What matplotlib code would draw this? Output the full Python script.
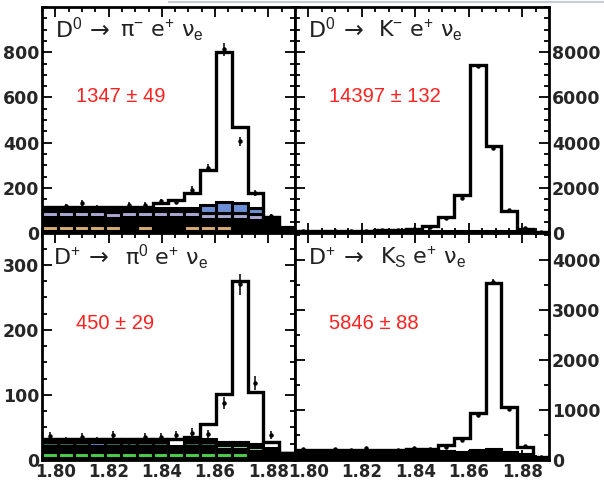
import numpy as np
import matplotlib
matplotlib.use("Agg")
import matplotlib.pyplot as plt
from matplotlib.ticker import FixedLocator, MultipleLocator
from matplotlib.lines import Line2D

plt.rcParams['mathtext.fontset'] = 'custom'
plt.rcParams['mathtext.rm'] = 'Liberation Sans'
plt.rcParams['mathtext.it'] = 'Liberation Sans:italic'
plt.rcParams['mathtext.bf'] = 'Liberation Sans:bold'
plt.rcParams['mathtext.fallback'] = 'cm'

# ---------------- data ----------------
edges = np.linspace(1.795, 1.89, 17)          # D mass bins (GeV)
xticks = [1.80, 1.82, 1.84, 1.86, 1.88]
xticklabels = ["1.80", "1.82", "1.84", "1.86", "1.88"]

# top-left: D0 -> pi- e+ nu
tl_data  = [110, 118, 133, 112, 108, 124, 126, 140, 138, 192, 288, 812, 405, 176, 75, 13]
tl_total = [117, 117, 117, 117, 117, 117, 117, 132, 147, 178, 280, 800, 471, 179, 72, 20]
tl_green = [8, 8, 8, 8, 8, 8, 8, 8, 8, 8, 8, 8, 8, 8, 4, 0]
tl_tan   = [26, 26, 26, 26, 26, 10, 26, 10, 10, 26, 26, 26, 10, 10, 0, 0]
tl_dark  = [38, 36, 38, 36, 34, 52, 38, 54, 52, 38, 27, 27, 43, 41, 40, 28]
tl_lav   = [26, 26, 26, 26, 26, 26, 26, 26, 26, 26, 26, 26, 26, 24, 14, 0]
tl_blue  = [14, 14, 14, 14, 14, 14, 14, 14, 14, 14, 39, 51, 47, 29, 14, 0]
tl_yticks = [0, 200, 400, 600, 800]

# top-right: D0 -> K- e+ nu
tr_data  = [70, 60, 110, 80, 90, 120, 140, 160, 260, 650, 1560, 7380, 3760, 1000, 220, 60]
tr_total = [90, 90, 95, 100, 110, 130, 150, 170, 300, 710, 1690, 7420, 3870, 980, 180, 40]
tr_dark  = [60, 60, 60, 60, 60, 60, 60, 70, 80, 90, 100, 110, 100, 80, 60, 40]
tr_yticks = [0, 2000, 4000, 6000, 8000]

# bottom-left: D+ -> pi0 e+ nu
bl_data  = [37, 30, 35, 30, 38, 29, 36, 36, 38, 42, 40, 87, 270, 118, 39, 5]
bl_total = [32, 32, 32, 32, 32, 32, 32, 32, 32, 36, 55, 101, 275, 104, 28, 10]
bl_dark1 = [3, 3, 3, 3, 3, 3, 3, 3, 3, 3, 3, 3, 3, 3, 3, 10]
bl_green = [10, 10, 10, 10, 10, 10, 10, 10, 10, 10, 10, 10, 10, 0, 0, 0]
bl_dark2 = [9, 9, 9, 9, 9, 9, 9, 9, 4, 9, 9, 4, 4, 11, 9, 0]
bl_teal  = [5, 5, 5, 0, 5, 5, 5, 5, 0, 5, 5, 0, 0, 0, 0, 0]
bl_blue  = [0, 0, 0, 5, 0, 0, 0, 0, 0, 0, 0, 0, 0, 0, 0, 0]
bl_mint  = [0, 0, 0, 0, 0, 0, 0, 0, 4, 0, 0, 6, 6, 6, 4, 0]
bl_dark3 = [5, 5, 5, 5, 5, 5, 5, 5, 0, 5, 5, 5, 5, 4, 2, 0]
bl_white = [0, 0, 0, 0, 0, 0, 0, 0, 11, 0, 0, 0, 0, 0, 10, 0]
bl_yticks = [0, 100, 200, 300]

# bottom-right: D+ -> Ks e+ nu
br_data  = [230, 190, 220, 200, 240, 180, 210, 240, 220, 270, 400, 900, 3560, 1030, 290, 60]
br_total = [200, 200, 200, 200, 200, 200, 200, 225, 225, 300, 440, 933, 3533, 1067, 267, 60]
br_dark  = [180, 180, 180, 180, 180, 180, 180, 160, 170, 185, 170, 200, 215, 170, 130, 50]
br_white = [0, 0, 0, 0, 0, 0, 0, 60, 0, 0, 0, 0, 0, 0, 0, 0]
br_yticks = [0, 1000, 2000, 3000, 4000]

title_heads = [r"D$^{0}$", r"D$^{0}$", r"D$^{+}$", r"D$^{+}$"]
title_arrow = "→"
title_tails = [r"π$^{-}$ e$^{+}$ ν$_{\mathrm{e}}$",
               r"K$^{-}$ e$^{+}$ ν$_{\mathrm{e}}$",
               r"π$^{0}$ e$^{+}$ ν$_{\mathrm{e}}$",
               r"K$_{\mathrm{S}}$ e$^{+}$ ν$_{\mathrm{e}}$"]
yields = ["1347 ± 49", "14397 ± 132", "450 ± 29", "5846 ± 88"]

C_GREEN = "#45d045"
C_TAN = "#d8ad6e"
C_LAV = "#aba8d4"
C_BLUE = "#6b8fd4"
C_TEAL = "#3f7a5c"
C_MINT = "#8fd6ad"

# ---------------- figure ----------------
W, H = 604, 482
fig = plt.figure(figsize=(W / 100, H / 100), dpi=100)

def frac(x0, y0, x1, y1):
    return [x0 / W, 1 - y1 / H, (x1 - x0) / W, (y1 - y0) / H]

ax_tl = fig.add_axes(frac(42, 7, 295, 233))
ax_tr = fig.add_axes(frac(295, 7, 549, 233))
ax_bl = fig.add_axes(frac(42, 233, 295, 460))
ax_br = fig.add_axes(frac(295, 233, 549, 460))

lefts = edges[:-1]
widths = np.diff(edges)
centers = 0.5 * (edges[:-1] + edges[1:])

def draw(ax, comps, total, data, ylim, yticks, yminor, side, bottom, idx,
         ylbl_pos, xpos):
    cum = np.zeros(len(lefts))
    for vals, col in comps:
        v = np.asarray(vals, float)
        ax.bar(lefts, v, width=widths, bottom=cum, align='edge', color=col,
               edgecolor='black', linewidth=2.2, zorder=2)
        cum = cum + v
    ax.stairs(total, edges, color='black', linewidth=2.4, zorder=3, baseline=None)
    d = np.asarray(data, float)
    ax.errorbar(centers, d, yerr=np.sqrt(d), fmt='o', ms=2.2, color='black',
                elinewidth=1.1, capsize=0, zorder=4)
    ax.set_xlim(edges[0], edges[-1])
    ax.set_ylim(*ylim)
    ax.yaxis.set_major_locator(FixedLocator(yticks))
    ax.yaxis.set_minor_locator(MultipleLocator(yminor))
    ax.xaxis.set_major_locator(FixedLocator(xticks))
    ax.xaxis.set_minor_locator(MultipleLocator(0.005))
    ax.tick_params(which='both', direction='in', top=True, right=True,
                   bottom=True, left=True, width=1.3, colors='black')
    ax.tick_params(which='major', length=7)
    ax.tick_params(which='minor', length=3.5)
    ax.tick_params(axis='both', labelsize=12.5, labelcolor='#262626', pad=2)
    ax.tick_params(axis='x', pad=2, labelsize=12)
    if side == 'left':
        ax.tick_params(axis='y', labelleft=True, labelright=False)
    else:
        ax.tick_params(axis='y', labelleft=False, labelright=True)
    if bottom:
        ax.set_xticklabels(xticklabels)
    else:
        ax.tick_params(axis='x', labelbottom=False)
    for lab in ax.get_yticklabels() + ax.get_xticklabels():
        lab.set_fontweight('bold')
        lab.set_family('DejaVu Sans')
    for sp in ax.spines.values():
        sp.set_linewidth(2.0)
        sp.set_zorder(5)
    x_head, x_arrow, x_tail = xpos
    ax.text(x_head, ylbl_pos, title_heads[idx], transform=ax.transAxes,
            fontsize=16, color='#222222', ha='left', va='baseline')
    ax.text(x_arrow, ylbl_pos, title_arrow, transform=ax.transAxes,
            fontsize=17, color='#222222', family='DejaVu Sans',
            ha='left', va='baseline')
    ax.text(x_tail, ylbl_pos, title_tails[idx], transform=ax.transAxes,
            fontsize=16, color='#222222', ha='left', va='baseline')
    ax.text(0.135, ylbl_pos - 0.26, yields[idx], transform=ax.transAxes,
            fontsize=14.5, color='#ff2020', family='Liberation Sans',
            ha='left', va='center')

draw(ax_tl,
     [(tl_green, C_GREEN), (tl_tan, C_TAN), (tl_dark, 'black'),
      (tl_lav, C_LAV), (tl_blue, C_BLUE)],
     tl_total, tl_data, (0, 1000), tl_yticks, 50, 'left', False, 0, 0.865,
     (0.05, 0.19, 0.31))
draw(ax_tr, [(tr_dark, 'black')],
     tr_total, tr_data, (0, 10000), tr_yticks, 500, 'right', False, 1, 0.865,
     (0.05, 0.19, 0.325))
draw(ax_bl,
     [(bl_dark1, 'black'), (bl_green, C_GREEN), (bl_dark2, 'black'),
      (bl_teal, C_TEAL), (bl_blue, C_BLUE), (bl_mint, C_MINT),
      (bl_dark3, 'black'), (bl_white, 'white')],
     bl_total, bl_data, (0, 349), bl_yticks, 25, 'left', True, 2, 0.86,
     (0.045, 0.185, 0.33))
draw(ax_br, [(br_dark, 'black'), (br_white, 'white')],
     br_total, br_data, (0, 4540), br_yticks, 500, 'right', True, 3, 0.86,
     (0.05, 0.19, 0.335))

fig.add_artist(Line2D([0.28, 1.0], [1 - 1.5 / H, 1 - 1.5 / H], color='#c9ccd8',
                      linewidth=1.5, transform=fig.transFigure))

fig.savefig("out.png", dpi=100)
